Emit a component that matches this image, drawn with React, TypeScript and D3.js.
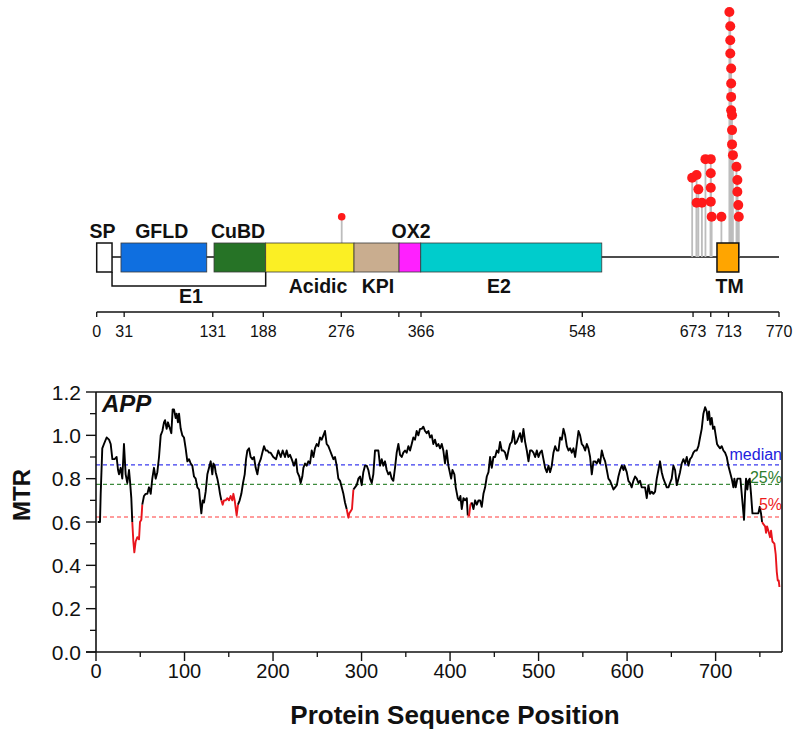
import React from 'react';
import * as d3 from 'd3';

// ---------- Domain diagram data ----------
const domainNames = ['SP', 'GFLD', 'CuBD', 'Acidic', 'KPI', 'OX2', 'E2', 'TM'];
const domainStart = [0, 27.4, 132.4, 190.7, 290.4, 341.2, 365.7, 700];
const domainEnd = [17.3, 124.2, 190.7, 290.4, 341.2, 365.7, 570, 724.6];
const domainColors = ['#ffffff', '#0f6fe0', '#267326', '#fbef24', '#c9ad8f', '#ff20ff', '#00cccc', '#ffa500'];
const domainLabelSide = ['top', 'top', 'top', 'bottom', 'bottom', 'top', 'bottom', 'bottom'];
const domainLabelPos = [6.5, 73.4, 159.5, 249.8, 317.5, 354.7, 454, 714.2];
const bracketName = 'E1';
const bracketStart = 17.3;
const bracketEnd = 190.7;
const bracketLabelPos = 106.4;
const proteinLength = 770;

const topTicksLabeled = [0, 31, 131, 188, 276, 366, 548, 673, 713, 770];
const topTicksPlain = [341, 693];

// lollipops: position, stack height (variant count scale), size
const lolPos = [276.5, 672, 677, 679, 677, 683, 687, 693, 693, 693, 693, 694, 705,
  714, 715, 715, 715, 716, 716, 716, 716, 717, 717, 717, 718, 722, 723, 723, 724, 724.6];
const lolVal = [1.0, 3.72, 3.91, 2.91, 1.98, 1.98, 5.02, 5.02, 4.03, 3.02, 2.05, 1.0, 1.0,
  15.3, 14.3, 13.33, 12.4, 11.35, 10.3, 9.37, 8.44, 8.09, 7.05, 6.05, 5.3, 4.49, 3.56, 2.74, 1.81, 1.0];
const lolSmall = [true];

// ---------- MTR data ----------
const mtrPos = [
  2, 4.5, 5.3, 7.1, 9, 12, 14.7, 16.6, 18.5, 21, 23.3, 24.9, 26, 27.9, 29.7, 31.6, 33.5, 35.4, 37.3, 38.4, 39.9,
  41, 42.2, 43.3, 44.8, 46.7, 48.6, 49.7, 51.2, 52.3, 54.2, 56.1, 58, 59.9, 61.8, 63.6, 65.5, 67.4, 69.3, 71.2,
  73.1, 75, 76.8, 78, 79.8, 81.3, 83.6, 85.1, 86.6, 88.1, 90, 91.1, 92.6, 93.8, 95.7, 97.5, 99.4, 101.3, 103.2,
  105.1, 107, 108.8, 110.7, 112.6, 114.5, 116.4, 117.5, 119, 120.5, 122, 123.9, 125.8, 127.7, 129.6, 131.4, 132.6,
  134.1, 135.2, 137.1, 139, 140.1, 141.6, 143.1, 144.6, 146.5, 148.4, 150.3, 152.1, 154, 155.2, 156.7, 158.9,
  160.4, 162.3, 164.2, 166.1, 168, 169.5, 171, 172.9, 174.7, 176.6, 178.5, 180.4, 182.3, 184.2, 186.1, 187.9,
  189.8, 191.7, 193.6, 195.5, 197.3, 200.3,
  203.4, 206, 208.7, 210.9, 213.5, 215.4, 217.3, 219.2, 221.1, 223.7, 226, 227.5, 229.7, 231.2, 233.1, 234.3,
  236.1, 238, 239.9, 241.8, 243.7, 245.6, 247.4, 249.3, 251.2, 253.1, 255, 256.9, 258.7, 260.6, 262.5, 264.4,
  266.3, 268.2, 270, 271.9, 273.8, 275.7, 277.6, 279.5, 281.3, 283.2, 285.1, 286.2, 287.7, 289.2, 290.8, 292.6,
  294.5, 296.4, 298.3, 300.2, 302, 303.9, 305.8, 307.7, 309.6, 311.5, 313.3, 315.2, 317.1, 319, 320.9, 322.8,
  324.6, 326.5, 328.4, 330.3, 332.2, 334.1, 335.9, 337.8, 339.7, 341.6, 343.5, 345.4, 347.2, 349.1, 351, 352.9,
  354.8, 356.7, 358.5, 360.4, 362.3, 364.2, 366.1, 368, 369.8, 371.7, 373.6, 375.5, 377.4, 379.3, 381.1, 383,
  384.9, 386.8, 388.7, 390.6, 392.4, 394.3, 396.2, 398.1,
  401.2, 402.7, 404.9, 406.4, 408.7, 410.2, 411.7, 413.2, 415.1, 417, 418.9, 420, 421.5, 423, 424.5, 426.4,
  428.3, 430.2, 432.1, 433.9, 435.8, 437.7, 439.6, 441.5, 443.4, 445.2, 447.1, 449, 450.9, 452.8, 454.7, 456.5,
  458.4, 460.3, 462.2, 464.1, 466, 467.8, 469.7, 471.6, 473.5, 475.4, 477.3, 479.1, 481, 482.9, 484.8, 486.7,
  488.6, 490.4, 492.3, 494.2, 496.1, 498, 499.9, 501.7, 503.6, 505.5, 507.4, 509.3, 511.2, 513, 514.9, 516.8,
  518.7, 520.6, 522.5, 524.3, 526.2, 528.1, 530, 531.9, 533.8, 535.6, 537.5, 539.4, 541.3, 543.2, 545.1, 546.9,
  548.8, 550.7, 552.6, 554.5, 556.3, 558.2, 560.1, 562, 563.9, 565.8, 567.6, 569.5, 571.4, 573.3, 575.2, 577.1,
  578.9, 580.8, 582.7, 584.6, 586.5, 588.4, 590.2, 592.1, 594, 595.9,
  597, 599.6, 601.5, 603.3, 605.2, 607.1, 609, 610.9, 612.8, 614.6, 616.5, 618.4, 620.3, 622.2, 624.1, 625.9,
  627.8, 629.7, 631.6, 633.5, 635.4, 637.2, 639.1, 641, 642.9, 644.8, 646.7, 648.5, 650.4, 652.3, 654.2, 656.1,
  658, 659.8, 661.7, 663.6, 665.5, 667.4, 669.3, 671.1, 673, 674.9, 676.8, 678.7, 680.6, 682.4, 684.3, 686.2,
  688.1, 690, 691.1, 692.6, 694.1, 695.6, 697.1, 698.6, 700.1, 701.6, 703.1, 705, 706.9, 708.8, 710.7, 712.6,
  714.4, 716.3, 718.2, 720.1, 721.2, 722.7, 724.6, 726.5, 728, 729.5, 731, 732.1, 733.3, 734.4, 735.9, 737,
  738.5, 740, 741.6, 743.8, 746.5, 748.3, 749.8, 751.3, 752.5, 754, 755.9, 757, 758.1, 759.6, 761.5, 762.6,
  764.2, 766.4, 767.9, 769.1, 770.2, 771.3, 772.1,
];
const mtrVal = [
  0.60, 0.60, 0.73, 0.94, 0.96, 0.99, 0.98, 0.96, 0.89, 0.89, 0.90, 0.84, 0.82, 0.85, 0.80, 0.96, 0.82, 0.78, 0.84, 0.79, 0.71,
  0.60, 0.51, 0.46, 0.51, 0.53, 0.52, 0.60, 0.61, 0.68, 0.72, 0.73, 0.73, 0.76, 0.73, 0.80, 0.85, 0.80, 0.83, 0.90,
  1.00, 1.02, 1.06, 1.07, 1.03, 1.06, 1.03, 1.01, 1.12, 1.12, 1.08, 1.10, 1.06, 1.10, 1.03, 1.00, 0.99, 0.94, 0.88,
  0.89, 0.87, 0.86, 0.81, 0.80, 0.76, 0.75, 0.70, 0.64, 0.70, 0.69, 0.74, 0.82, 0.85, 0.88, 0.82, 0.87,
  0.86, 0.83, 0.80, 0.76, 0.73, 0.70, 0.68, 0.70, 0.70, 0.71, 0.70, 0.72, 0.70, 0.73, 0.70, 0.63,
  0.68, 0.70, 0.73, 0.78, 0.82, 0.89, 0.93, 0.94, 0.90, 0.89, 0.90, 0.85, 0.82, 0.87, 0.89, 0.92,
  0.95, 0.93, 0.93, 0.92, 0.92, 0.90,
  0.89, 0.93, 0.90, 0.93, 0.90, 0.93, 0.90, 0.91, 0.89, 0.86, 0.89, 0.83, 0.81, 0.78, 0.81, 0.85,
  0.87, 0.86, 0.88, 0.87, 0.93, 0.90, 0.94, 0.96, 0.95, 0.99, 0.98, 1.00, 1.02, 0.96, 0.95, 0.93,
  0.91, 0.89, 0.90, 0.86, 0.80, 0.79, 0.76, 0.73, 0.69, 0.66, 0.62, 0.64, 0.65, 0.66, 0.75, 0.76,
  0.77, 0.80, 0.81, 0.77, 0.83, 0.86, 0.86, 0.84, 0.80, 0.78, 0.82, 0.93, 0.93, 0.93, 0.86, 0.89,
  0.86, 0.88, 0.84, 0.82, 0.83, 0.80, 0.79, 0.85, 0.92, 0.96, 0.91, 0.90, 0.92, 0.93, 0.92, 0.95,
  0.93, 0.96, 0.99, 0.98, 1.02, 1.00, 1.03, 1.03, 1.04, 1.02, 1.01, 1.02, 0.99, 1.00, 0.96, 0.98,
  0.95, 0.96, 0.94, 0.96, 0.93, 0.87, 0.93, 0.86,
  0.80, 0.84, 0.82, 0.76, 0.71, 0.70, 0.72, 0.66, 0.71, 0.70, 0.71, 0.63, 0.63, 0.68, 0.69, 0.66,
  0.70, 0.68, 0.70, 0.70, 0.67, 0.73, 0.76, 0.81, 0.83, 0.90, 0.85, 0.90, 0.90, 0.93, 0.92, 0.97,
  0.93, 0.93, 0.92, 0.89, 0.93, 0.96, 0.97, 1.02, 0.96, 0.97, 0.99, 1.01, 0.97, 1.03, 0.97, 0.93,
  0.88, 0.93, 0.93, 0.92, 0.90, 0.93, 0.90, 0.92, 0.93, 0.89, 0.85, 0.83, 0.86, 0.83, 0.86, 0.92,
  0.95, 0.93, 0.93, 0.99, 0.98, 1.03, 1.00, 0.95, 0.93, 0.94, 0.92, 0.94, 0.90, 0.96, 1.02, 1.00,
  0.96, 0.95, 0.93, 0.96, 0.94, 0.90, 0.82, 0.88, 0.88, 0.87, 0.89, 0.87, 0.93, 0.90, 0.88, 0.84,
  0.80, 0.79, 0.77, 0.75, 0.76, 0.77, 0.81, 0.84, 0.86, 0.84,
  0.86, 0.83, 0.79, 0.78, 0.76, 0.79, 0.81, 0.80, 0.78, 0.79, 0.76, 0.76, 0.76, 0.71, 0.77, 0.73,
  0.74, 0.73, 0.74, 0.80, 0.84, 0.88, 0.83, 0.80, 0.78, 0.76, 0.76, 0.78, 0.80, 0.86, 0.84, 0.77,
  0.80, 0.83, 0.87, 0.89, 0.87, 0.90, 0.86, 0.89, 0.90, 0.92, 0.93, 0.93, 0.95, 0.99, 1.03, 1.10,
  1.13, 1.11, 1.07, 1.11, 1.05, 1.08, 1.03, 1.04, 1.00, 0.96, 0.95, 0.94, 0.95, 0.93, 0.92, 0.90,
  0.86, 0.83, 0.80, 0.76, 0.80, 0.76, 0.80, 0.80, 0.80, 0.73, 0.66, 0.61, 0.73, 0.80, 0.75, 0.79,
  0.80, 0.73, 0.64, 0.64, 0.64, 0.64, 0.67, 0.64, 0.60, 0.59, 0.58, 0.55, 0.58, 0.56, 0.53, 0.56,
  0.51, 0.50, 0.45, 0.37, 0.33, 0.33, 0.30,
];
const redStart = [40.5, 142, 157.5, 284, 419.5, 752];
const redEnd = [53, 156.5, 160.5, 291, 425, 775];

const refNames = ['median', '25%', '5%'];
const refValues = [0.864, 0.774, 0.623];
const refColors = ['#3a3aee', '#3d8b3d', '#ff3a3a'];
const refTextColors = ['#2222dd', '#2e7d2e', '#ee1c1c'];

const yTicksMajor = [0, 0.2, 0.4, 0.6, 0.8, 1.0, 1.2];
const yTicksMinor = [0.1, 0.3, 0.5, 0.7, 0.9, 1.1];
const xTicksMajor = [0, 100, 200, 300, 400, 500, 600, 700];
const xTicksMinor = [50, 150, 250, 350, 450, 550, 650, 750];

const FONT = "'Liberation Sans', Arial, Helvetica, sans-serif";

export default function App() {
  // top diagram scales
  const xT = d3.scaleLinear().domain([0, proteinLength]).range([96.7, 779]);
  const yLol = d3.scaleLinear().domain([0, 16]).range([231, 2]);
  const backboneY = 257;
  const boxTop = 243;
  const boxBot = 272;
  const bracketY = 286;
  const topAxisY = 312;

  // bottom plot scales
  const x = d3.scaleLinear().domain([0, 775]).range([96, 782]);
  const y = d3.scaleLinear().domain([0, 1.2]).range([652, 392]);

  const pts: [number, number][] = mtrPos.map((p, i) => [p, mtrVal[i]]);
  const isRed = (a: number, b: number) => {
    const m = (a + b) / 2;
    return redStart.some((s, k) => m >= s && m <= redEnd[k]);
  };
  const runs: { red: boolean; pts: [number, number][] }[] = [];
  let cur = { red: isRed(pts[0][0], pts[1][0]), pts: [pts[0]] as [number, number][] };
  for (let i = 0; i < pts.length - 1; i++) {
    const r = isRed(pts[i][0], pts[i + 1][0]);
    if (r !== cur.red) {
      runs.push(cur);
      cur = { red: r, pts: [pts[i]] };
    }
    cur.pts.push(pts[i + 1]);
  }
  runs.push(cur);
  const line = d3.line<[number, number]>().x(d => x(d[0])).y(d => y(d[1]));

  const bracketPath = d3.path();
  bracketPath.moveTo(xT(bracketStart), boxBot);
  bracketPath.lineTo(xT(bracketStart), bracketY);
  bracketPath.lineTo(xT(bracketEnd), bracketY);
  bracketPath.lineTo(xT(bracketEnd), boxBot);

  const isTM = (i: number) => domainNames[i] === 'TM';

  return (
    <svg width={800} height={735} style={{ position: 'absolute', left: 0, top: 0, background: '#fff' }}
      fontFamily={FONT}>
      <rect x={0} y={0} width={800} height={735} fill="#fff" />
      {/* ---------- Domain diagram ---------- */}
      <line x1={xT(0)} x2={xT(proteinLength)} y1={backboneY} y2={backboneY} stroke="#111" strokeWidth={1.5} />
      {lolPos.map((p, i) => (
        <line key={'s' + i} x1={xT(p)} x2={xT(p)} y1={backboneY} y2={yLol(lolVal[i])} stroke="#bdbdbd" strokeWidth={1.8} />
      ))}
      {domainNames.map((n, i) => (
        <rect key={'d' + i} x={xT(domainStart[i])} y={boxTop} width={xT(domainEnd[i]) - xT(domainStart[i])}
          height={boxBot - boxTop} fill={domainColors[i]}
          stroke={i === 0 || isTM(i) ? '#111' : '#3a3a3a'} strokeWidth={i === 0 || isTM(i) ? 1.5 : 0.8} />
      ))}
      {lolPos.map((p, i) => (
        <circle key={'c' + i} cx={xT(p)} cy={yLol(lolVal[i])} r={lolSmall[i] ? 3.8 : 5} fill="#ff1a1a" />
      ))}
      {domainNames.map((n, i) => (
        <text key={'l' + i} x={xT(domainLabelPos[i])} y={domainLabelSide[i] === 'top' ? 238 : 293}
          textAnchor="middle" fontWeight="bold" fontSize={19.5} fill="#111">{n}</text>
      ))}
      <path d={bracketPath.toString()} fill="none" stroke="#111" strokeWidth={1.5} />
      <text x={xT(bracketLabelPos)} y={303} textAnchor="middle" fontWeight="bold" fontSize={19.5} fill="#111">{bracketName}</text>

      {/* top axis */}
      <line x1={xT(0)} x2={xT(proteinLength)} y1={topAxisY} y2={topAxisY} stroke="#111" strokeWidth={1.5} />
      {topTicksLabeled.concat(topTicksPlain).map((t, i) => (
        <line key={'tt' + i} x1={xT(t)} x2={xT(t)} y1={topAxisY} y2={topAxisY + 5} stroke="#111" strokeWidth={1.3} />
      ))}
      {topTicksLabeled.map((t, i) => (
        <text key={'tl' + i} x={xT(t)} y={337} textAnchor="middle" fontSize={16} fill="#111">{t}</text>
      ))}

      {/* ---------- MTR plot ---------- */}
      {refValues.map((v, i) => (
        <line key={'r' + i} x1={x(0)} x2={782} y1={y(v)} y2={y(v)} stroke={refColors[i]} strokeWidth={1.2}
          strokeDasharray="4,3" />
      ))}
      {runs.map((r, i) => (
        <path key={'run' + i} d={line(r.pts) || ''} fill="none" stroke={r.red ? '#e8141c' : '#000'}
          strokeWidth={1.9} strokeLinejoin="round" />
      ))}
      {refNames.map((n, i) => (
        <text key={'rn' + i} x={782} y={[460, 483, 510][i]} textAnchor="end" fontSize={16}
          fill={refTextColors[i]}>{n}</text>
      ))}

      {/* frame */}
      <line x1={96} x2={782} y1={392} y2={392} stroke="#111" strokeWidth={1.6} />
      <line x1={782} x2={782} y1={392} y2={652} stroke="#111" strokeWidth={1.6} />
      <line x1={96} x2={96} y1={392} y2={652} stroke="#111" strokeWidth={1.6} />
      <line x1={86} x2={782} y1={652} y2={652} stroke="#111" strokeWidth={1.6} />

      {yTicksMajor.map((t, i) => (
        <g key={'ym' + i}>
          <line x1={86} x2={96} y1={y(t)} y2={y(t)} stroke="#111" strokeWidth={1.4} />
          <text x={81} y={y(t) + 7.5} textAnchor="end" fontSize={21} fill="#111">{t.toFixed(1)}</text>
        </g>
      ))}
      {yTicksMinor.map((t, i) => (
        <line key={'yn' + i} x1={90} x2={96} y1={y(t)} y2={y(t)} stroke="#111" strokeWidth={1.3} />
      ))}
      {xTicksMajor.map((t, i) => (
        <g key={'xm' + i}>
          <line x1={x(t)} x2={x(t)} y1={652} y2={661} stroke="#111" strokeWidth={1.4} />
          <text x={x(t)} y={678} textAnchor="middle" fontSize={20} fill="#111">{t}</text>
        </g>
      ))}
      {xTicksMinor.map((t, i) => (
        <line key={'xn' + i} x1={x(t)} x2={x(t)} y1={652} y2={657} stroke="#111" strokeWidth={1.3} />
      ))}

      <text x={102} y={412} fontSize={24} fontWeight="bold" fontStyle="italic" fill="#111">APP</text>
      <text transform="translate(30,495) rotate(-90)" textAnchor="middle" fontSize={24} fontWeight="bold" fill="#111">MTR</text>
      <text x={455} y={724} textAnchor="middle" fontSize={26} fontWeight="bold" fill="#111">Protein Sequence Position</text>
    </svg>
  );
}
